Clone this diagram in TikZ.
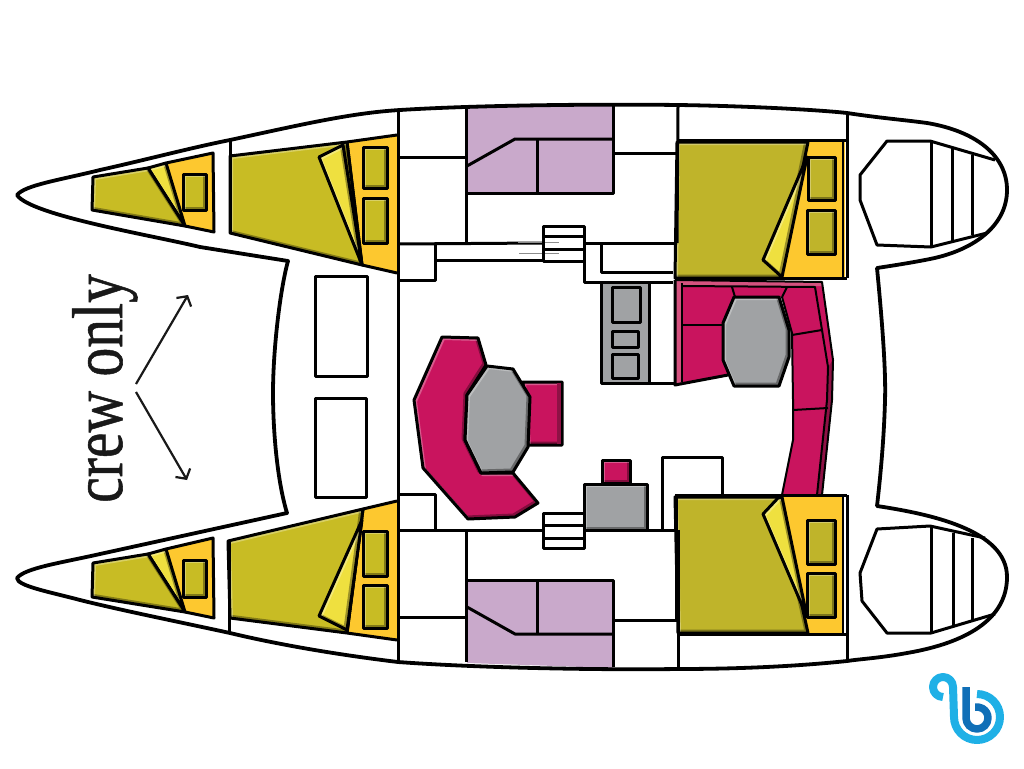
\documentclass[tikz,border=0pt]{standalone}
\usepackage{fontspec}
\setmainfont{Liberation Serif}
\newfontfamily\crewfont[FakeBold=0.8]{Liberation Serif}
\usepackage{xcolor}
\usetikzlibrary{arrows.meta, positioning, calc}

\definecolor{olive}{HTML}{C8BC24}
\definecolor{oliveaft}{HTML}{BFB42A}
\definecolor{amber}{HTML}{FDC82F}
\definecolor{lemon}{HTML}{EFE03F}
\definecolor{sofa}{HTML}{C9145E}
\definecolor{sofapale}{HTML}{D4527F}
\definecolor{sofadark}{HTML}{8E1245}
\definecolor{stone}{HTML}{A0A2A4}
\definecolor{lilac}{HTML}{C9A9CB}
\definecolor{logolight}{HTML}{1FB0E6}
\definecolor{logodark}{HTML}{106FB7}

% filled piece with a soft dark and light inner edge
\newcommand{\cushion}[2]{
	\fill[#1] #2;
	\begin{scope}
		\clip #2;
		\draw[black, opacity=.35, line width=4pt, shift={(-1.5,-1.5)}] #2;
		\draw[white, opacity=.3, line width=3pt, shift={(1.5,1.5)}] #2;
	\end{scope}
	\draw[wall] #2;
}

\begin{document}
\begin{tikzpicture}[x=1pt, y=-1pt, line join=round]
	
	% Define styles
	\tikzstyle{wall} = [draw=black, line width=3pt]
	\tikzstyle{thinwall} = [draw=black, line width=2pt]
	\tikzstyle{hull} = [draw=black, line width=3.8pt]
	\tikzstyle{pointer} = [draw=black!90, line width=2.2pt, -{Straight Barb[length=7pt, width=17pt]}]
	
	\useasboundingbox (0,0) rectangle (1024,768);
	
	% Saloon berths, purple
	\fill[lilac] (467,107) -- (613,105) -- (613,193) -- (467,193) -- cycle;
	\fill[lilac] (467,580) -- (613,580) -- (613,668) -- (467,663) -- cycle;
	
	% Forward cabins, top hull
	\fill[amber] (166,163) -- (213,153) -- (214,232) -- (185,226) -- cycle;
	\draw[wall] (166,163) -- (213,153) -- (214,232) -- (185,226);
	\cushion{lemon}{(148,168) -- (166,163) -- (185,226) -- cycle}
	\cushion{olive}{(93,177) -- (148,168) -- (185,226) -- (92,210) -- cycle}
	\cushion{olive}{(183,174) rectangle (206,210)}
	
	\fill[amber] (347,142) -- (397,135) -- (397,273) -- (362,265) -- cycle;
	\draw[wall] (347,142) -- (397,135);
	\draw[wall] (362,265) -- (397,273);
	\draw[wall] (347,142) -- (362,265);
	\cushion{olive}{(230,156) -- (347,142) -- (362,265) -- (230,233) -- cycle}
	\cushion{lemon}{(343,145) -- (319,157) -- (362,265) -- cycle}
	\cushion{olive}{(363,147) rectangle (387,188)}
	\cushion{olive}{(363,198) rectangle (387,243)}
	
	% Forward cabins, bottom hull
	\fill[amber] (166,549) -- (213,538) -- (214,618) -- (185,612) -- cycle;
	\draw[wall] (166,549) -- (213,538) -- (214,618) -- (185,612);
	\cushion{lemon}{(148,554) -- (166,549) -- (185,612) -- cycle}
	\cushion{olive}{(93,563) -- (148,554) -- (185,612) -- (92,597) -- cycle}
	\cushion{olive}{(183,560) rectangle (206,597)}
	
	\fill[amber] (363,509) -- (397,501) -- (397,640) -- (347,633) -- cycle;
	\draw[wall] (363,509) -- (397,501);
	\draw[wall] (347,633) -- (397,640);
	\draw[wall] (363,509) -- (347,633);
	\cushion{olive}{(228,541) -- (363,509) -- (347,633) -- (230,618) -- cycle}
	\cushion{lemon}{(362,520) -- (319,616) -- (347,630) -- cycle}
	\cushion{olive}{(363,531) rectangle (387,576)}
	\cushion{olive}{(363,585) rectangle (387,628)}
	
	% Aft cabin, top hull
	\fill[amber] (808,141) -- (845,141) -- (845,278) -- (780,278) -- cycle;
	\cushion{oliveaft}{(677,142) -- (808,142) -- (780,278) -- (675,278) -- cycle}
	\cushion{lemon}{(807,157) -- (763,260) -- (782,277) -- cycle}
	\cushion{oliveaft}{(808,157) rectangle (835,200)}
	\cushion{oliveaft}{(807,210) rectangle (835,254)}
	
	% Lounge
	\fill[sofa] (675,280) -- (822,282) -- (833,360) -- (832,400) -- (822,495) -- (782,495) -- (793,440) -- (793,400) -- (792,333) -- (782,297) -- (733,297) -- (723,327) -- (723,357) -- (728,375) -- (675,385) -- cycle;
	\fill[sofapale] (675,280) -- (822,282) -- (823,286) -- (682,286) -- (682,384) -- (675,385) -- cycle;
	\fill[sofadark] (828,367) -- (833,360) -- (832,400) -- (822,495) -- (817,495) -- (827,400) -- cycle;
	\draw[wall] (675,280) -- (675,385) -- (728,375);
	\draw[thinwall] (675,280) -- (822,282) -- (833,360) -- (832,400) -- (822,495);
	\draw[thinwall] (782,495) -- (793,440) -- (793,400) -- (792,333) -- (782,297);
	\draw[thinwall] (682,283) -- (682,382);
	\draw[thinwall] (682,286) -- (815,287) -- (828,367) -- (827,400) -- (817,495);
	\draw[thinwall] (682,325) -- (723,325);
	\draw[thinwall] (792,335) -- (822,330);
	\draw[thinwall] (793,410) -- (828,408);
	\draw[thinwall] (732,287) -- (735,297);
	\draw[thinwall] (787,287) -- (782,297);
	\cushion{stone}{(734,297) -- (779,297) -- (789,330) -- (789,357) -- (779,386) -- (734,386) -- (723,360) -- (723,323) -- cycle}
	
	% Aft cabin, bottom hull
	\fill[amber] (782,497) -- (842,497) -- (842,633) -- (808,633) -- cycle;
	\cushion{oliveaft}{(675,497) -- (778,497) -- (808,633) -- (678,633) -- cycle}
	\cushion{lemon}{(778,498) -- (763,514) -- (807,617) -- (782,497) -- cycle}
	\cushion{oliveaft}{(807,520) rectangle (835,564)}
	\cushion{oliveaft}{(807,573) rectangle (835,617)}
	
	% Galley
	\fill[stone] (601,282) rectangle (649,383);
	\draw[wall] (601,282) -- (601,383) -- (675,383);
	\draw[wall] (649,282) -- (649,383);
	\draw[wall] (612,322) -- (612,287) -- (640,287) -- (640,322) -- cycle;
	\draw[wall] (612,331) rectangle (638,347);
	\draw[wall] (612,354) rectangle (638,378);
	
	% Saloon table and sofa
	\cushion{sofa}{(523,382) -- (562,382) -- (562,445) -- (528,445) -- cycle}
	\fill[sofadark] (557,383) rectangle (561,444);
	\cushion{sofa}{(442,337) -- (478,338) -- (486,365) -- (467,395) -- (465,440) -- (481,473) -- (513,473) -- (538,503) -- (515,517) -- (468,519) -- (423,468) -- (414,400) -- cycle}
	\cushion{stone}{(487,366) -- (513,369) -- (530,397) -- (528,447) -- (513,472) -- (481,473) -- (465,440) -- (467,395) -- cycle}
	\cushion{sofa}{(602,460) rectangle (630,483)}
	\cushion{stone}{(584,484) rectangle (647,530)}
	
	% Walls
	\draw[wall] (398,111) -- (398,662);
	\draw[wall] (230,140) -- (230,233);
	\draw[wall] (229,541) -- (229,633);
	\draw[wall] (398,157) -- (466,157);
	\draw[wall] (466,108) -- (466,243);
	\draw[wall] (398,244) -- (543,243);
	\draw[wall] (584,243) -- (677,243);
	\draw[wall] (435,244) -- (435,280) -- (398,280);
	\draw[wall] (435,260) -- (584,260);
	\draw[wall] (584,243) -- (584,282) -- (673,282);
	\draw[wall] (601,243) -- (601,272) -- (673,272);
	\draw[wall] (467,193) -- (613,193) -- (613,106);
	\draw[wall] (467,166) -- (515,139) -- (613,139);
	\draw[wall] (537,139) -- (537,192);
	\draw[wall] (613,153) -- (677,153);
	\draw[wall] (678,106) -- (677,243);
	\draw[wall] (678,140) -- (847,140);
	\draw[wall] (847,113) -- (847,278);
	\draw[wall] (675,278) -- (847,278);
	\draw[thinwall] (843,141) -- (843,278);
	
	\draw[wall] (398,494) -- (435,494) -- (435,530);
	\draw[wall] (398,530) -- (678,530);
	\draw[wall] (466,530) -- (466,662);
	\draw[wall] (398,617) -- (466,617);
	\draw[wall] (467,580) -- (613,580) -- (613,667);
	\draw[wall] (467,607) -- (515,634) -- (613,634);
	\draw[wall] (537,580) -- (537,634);
	\draw[wall] (613,620) -- (678,620);
	\draw[wall] (678,530) -- (678,668);
	\draw[wall] (662,530) -- (662,457) -- (722,457) -- (722,495);
	\draw[wall] (675,495) -- (847,495);
	\draw[wall] (676,495) -- (676,620);
	\draw[wall] (847,495) -- (847,661);
	\draw[wall] (678,634) -- (847,634);
	\draw[thinwall] (843,497) -- (843,634);
	
	% Steps
	\fill[white] (543,226) rectangle (584,261);
	\draw[black!45, line width=1pt] (518,242) -- (559,242);
	\draw[black!45, line width=1pt] (519,253) -- (559,253);
	\draw[wall] (543,226) rectangle (584,261);
	\draw[wall] (543,236) -- (584,236);
	\draw[wall] (543,249) -- (584,249);
	
	\fill[white] (543,513) rectangle (584,548);
	\draw[wall] (543,513) rectangle (584,548);
	\draw[wall] (543,525) -- (584,525);
	\draw[wall] (543,538) -- (584,538);
	
	% Cockpit benches
	\draw[wall] (315,276) rectangle (367,376);
	\draw[wall] (315,398) rectangle (366,497);
	
	% Trampolines
	\draw[wall] (995,160) -- (930,141) -- (887,141) -- (860,175) -- (860,200) -- (877,245) -- (931,247) -- (987,233);
	\draw[wall] (931,141) -- (931,247);
	\draw[wall] (952,149) -- (952,242);
	\draw[wall] (972,155) -- (972,235);
	
	\draw[wall] (985,538) -- (930,526) -- (877,529) -- (860,573) -- (862,601) -- (887,633) -- (931,633) -- (995,614);
	\draw[wall] (931,526) -- (931,633);
	\draw[wall] (953,533) -- (953,625);
	\draw[wall] (972,538) -- (972,620);
	
	% Hull
	\draw[hull] (17,195) .. controls (25,185) and (60,180) .. (100,170)
		.. controls (145,160) and (190,148) .. (230,140)
		.. controls (300,125) and (350,113) .. (400,110)
		.. controls (480,105) and (600,104) .. (678,105)
		.. controls (750,106) and (820,110) .. (847,113)
		.. controls (880,118) and (905,120) .. (927,123)
		.. controls (975,131) and (1007,155) .. (1007,190)
		.. controls (1007,225) and (975,250) .. (930,259)
		.. controls (910,263) and (890,266) .. (877,268)
		.. controls (882,320) and (886,370) .. (885,400)
		.. controls (884,440) and (880,480) .. (877,506)
		.. controls (930,514) and (1007,530) .. (1007,577)
		.. controls (1007,620) and (965,643) .. (907,653)
		.. controls (880,658) and (860,659) .. (847,661)
		.. controls (790,667) and (730,669) .. (678,669)
		.. controls (600,670) and (480,668) .. (398,662)
		.. controls (340,655) and (280,645) .. (230,633)
		.. controls (170,620) and (120,610) .. (80,600)
		.. controls (50,592) and (17,586) .. (17,578)
		.. controls (25,568) and (60,563) .. (100,554)
		-- (287,513)
		.. controls (277,480) and (273,430) .. (273,393)
		.. controls (273,350) and (280,290) .. (288,261)
		-- (200,247)
		.. controls (150,235) and (30,215) .. (17,195) -- cycle;
	
	% Label
	\node[rotate=90, xscale=.8, anchor=base west, inner sep=0pt, text=black!90, font=\crewfont\fontsize{72}{72}\selectfont] (crewlabel) at (122,503) {crew only};
	\coordinate (upfrom) at (136,384);
	\coordinate (upto) at (188,295);
	\coordinate (downfrom) at (136,392);
	\coordinate (downto) at (187,480);
	\draw[pointer] (upfrom) -- (upto);
	\draw[pointer] (downfrom) -- (downto);
	
	% Logo
	\draw[logolight, line width=8pt] (943,697) arc[start angle=90, end angle=360, radius=10] -- (954,717) arc[start angle=180, end angle=-90, radius=23];
	\draw[logodark, line width=7.5pt] (966,687) -- (966,718) arc[start angle=180, end angle=-100, radius=11];
	
\end{tikzpicture}
\end{document}
